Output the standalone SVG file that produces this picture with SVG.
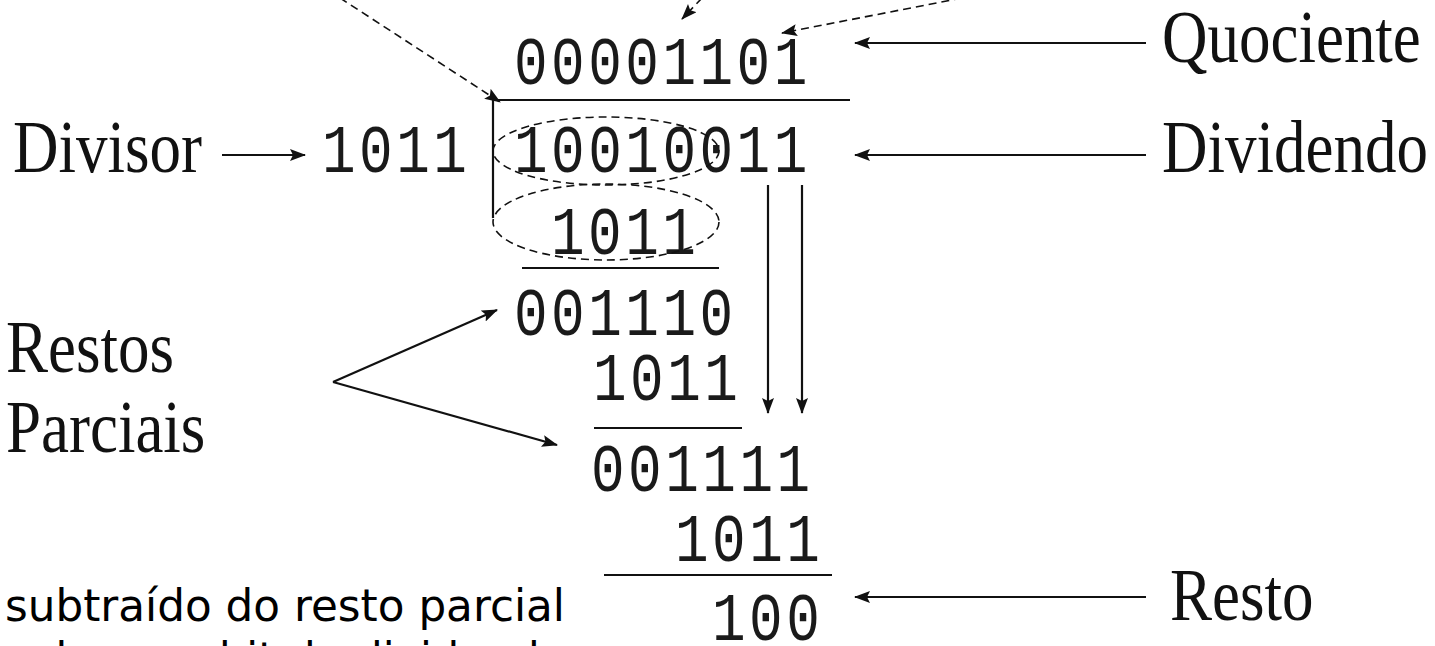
<svg xmlns="http://www.w3.org/2000/svg" width="1435" height="646" viewBox="0 0 1435 646">
  <style>
    .bin { font-family: "Liberation Mono", "Courier New", monospace; font-size: 56px; letter-spacing: 3.5px; fill: #1a1a1a; }
    .lbl { font-family: "Liberation Serif", "Times New Roman", serif; font-size: 63px; fill: #111; }
    .note { font-family: "Comic Sans MS", "DejaVu Sans", sans-serif; font-size: 44px; fill: #000; }
    .rule { stroke: #111; stroke-width: 2.2; fill: none; }
    .conn { stroke: #111; stroke-width: 2.2; fill: none; marker-end: url(#head); }
    .dash { stroke: #111; stroke-width: 1.6; fill: none; stroke-dasharray: 8 5; }
    .dashArrow { stroke: #111; stroke-width: 1.6; fill: none; stroke-dasharray: 8 5; marker-end: url(#head); }
  </style>
  <defs>
    <marker id="head" viewBox="0 0 16 12" refX="15" refY="6" markerWidth="16" markerHeight="12" markerUnits="userSpaceOnUse" orient="auto">
      <path d="M0,0 L16,6 L0,12 L3,6 Z" fill="#111"/>
    </marker>
  </defs>
  <rect width="1435" height="646" fill="#fff"/>

  <!-- long division layout -->
  <g id="division">
    <text id="quotient" class="bin" transform="translate(514,84) scale(1,1.22)">00001101</text>
    <text id="divisor" class="bin" transform="translate(322,172) scale(1,1.22)">1011</text>
    <text id="dividend" class="bin" transform="translate(514,172) scale(1,1.22)">10010011</text>
    <text class="bin" transform="translate(551,254) scale(1,1.22)">1011</text>
    <text class="bin" transform="translate(514,335) scale(1,1.22)">001110</text>
    <text class="bin" transform="translate(593,400) scale(1,1.22)">1011</text>
    <text class="bin" transform="translate(591,491) scale(1,1.22)">001111</text>
    <text class="bin" transform="translate(675,561) scale(1,1.22)">1011</text>
    <text id="remainder" class="bin" transform="translate(712,640) scale(1,1.22)">100</text>

    <!-- bracket and subtraction rules -->
    <path class="rule" d="M492,100 H850 M493,100 V218"/>
    <path class="rule" d="M522,268 H719"/>
    <path class="rule" d="M594,428 H742"/>
    <path class="rule" d="M604,575 H832"/>

    <!-- dashed groupings -->
    <ellipse class="dash" cx="606" cy="151" rx="113" ry="34"/>
    <ellipse class="dash" cx="606" cy="222" rx="113" ry="38"/>
  </g>

  <!-- labels -->
  <g id="label-divisor"><text class="lbl" transform="translate(13,172) scale(1,1.17)">Divisor</text></g>
  <g id="label-quociente"><text class="lbl" transform="translate(1162,62) scale(1,1.17)">Quociente</text></g>
  <g id="label-dividendo"><text class="lbl" transform="translate(1162,172) scale(1,1.17)">Dividendo</text></g>
  <g id="label-resto"><text class="lbl" transform="translate(1170,620) scale(1,1.17)">Resto</text></g>
  <g id="label-restos">
    <text class="lbl" transform="translate(6,372) scale(1,1.17)">Restos</text>
    <text class="lbl" transform="translate(6,452) scale(1,1.17)">Parciais</text>
  </g>
  <g id="note">
    <text class="note" x="5" y="621" textLength="560" lengthAdjust="spacingAndGlyphs">subtraído do resto parcial</text>
    <text class="note" x="0" y="674" textLength="566" lengthAdjust="spacingAndGlyphs">e desce o bit do dividendo</text>
  </g>

  <!-- connectors -->
  <g id="connectors">
    <line class="conn" x1="222" y1="155" x2="305" y2="155"/>
    <line class="conn" x1="1146" y1="43" x2="855" y2="43"/>
    <line class="conn" x1="1146" y1="155" x2="855" y2="155"/>
    <line class="conn" x1="1146" y1="597" x2="855" y2="597"/>
    <line class="conn" x1="768" y1="185" x2="768" y2="413"/>
    <line class="conn" x1="802" y1="185" x2="802" y2="413"/>
    <line class="conn" x1="333" y1="382" x2="497" y2="310"/>
    <line class="conn" x1="333" y1="382" x2="557" y2="445"/>
    <line class="dashArrow" x1="340" y1="-2" x2="500" y2="102"/>
    <line class="dashArrow" x1="702" y1="-2" x2="682" y2="19"/>
    <line class="dashArrow" x1="962" y1="-2" x2="782" y2="33"/>
  </g>
</svg>
